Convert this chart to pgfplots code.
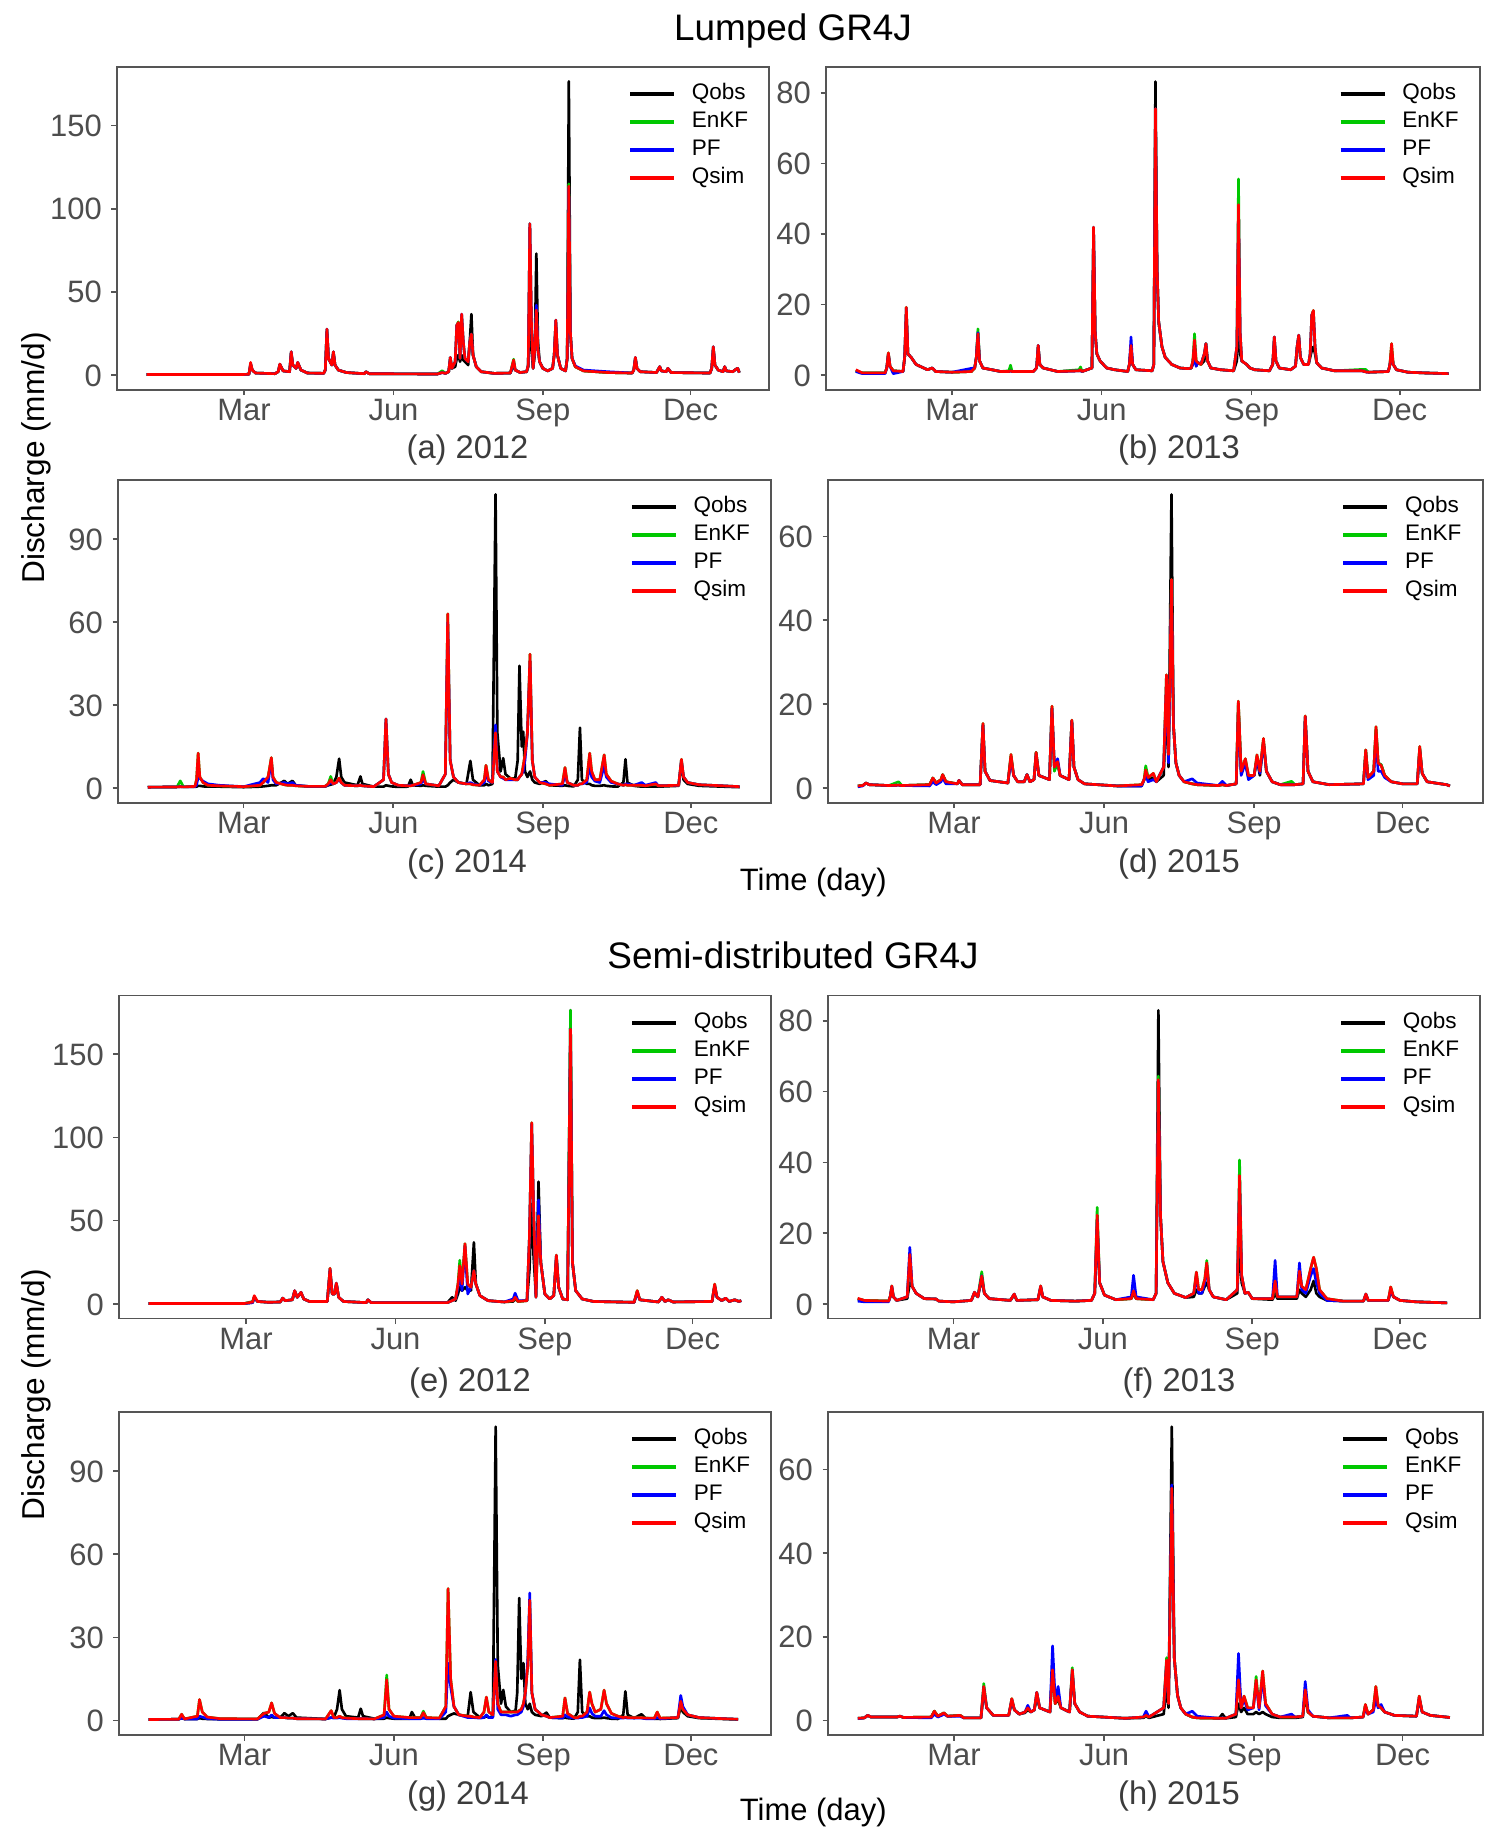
\documentclass[border=0pt]{standalone}
\usepackage{fontspec}
\setmainfont{Liberation Sans}
\usepackage{pgfplots}
\pgfplotsset{compat=1.18}
\usepackage{pgfplotstable}

\definecolor{cobs}{RGB}{0,0,0}
\definecolor{cenkf}{RGB}{0,200,0}
\definecolor{cpf}{RGB}{0,0,255}
\definecolor{csim}{RGB}{255,0,0}
\definecolor{tickgray}{RGB}{77,77,77}
\definecolor{framegray}{RGB}{85,85,85}
\definecolor{capgray}{RGB}{60,60,60}

% ---------- (a) Lumped 2012 ----------
\pgfplotstableread{
d o e p s
1 0.3 0.3 0.3 0.3
60 0.3 0.3 0.3 0.3
64 0.5 0.5 0.5 0.5
65 6 7 7 7.6
66 3 3 3 3
68 1.2 1.2 1.2 1.2
80 0.8 0.8 0.8 0.8
82 2 2 2 2
83 6 6.5 6.5 6.6
85 2.5 2.5 2.5 2.5
89 2 2 2 2
90 13 14 14 14
91 6 6 6 6
93 4 4 4 4
94 7 7.6 7.6 7.6
96 3 3 3 3
100 1.2 1.2 1.2 1.2
110 1 1 1 1
111 3 3 3 3
112 26 27.6 27.6 27.6
113 10 10 10 10
115 6 6 6 6
116 13 14 14 14
117 6 6 6 6
119 3 3 3 3
124 1.5 1.5 1.5 1.5
135 0.8 0.8 0.8 0.8
136 2 2 2 2
138 0.8 0.8 0.8 0.8
180 0.6 0.6 0.6 0.6
183 1.5 2.6 1.5 1.5
185 1 1 1 1
187 2 2 2 2
188 9 10.6 10.6 10.6
189 4 4 4 4
191 5 8 8 8
192 10 30 30 30
193 12 32 31 31.6
194 8 10 10 10
195 12 36 36.6 36.6
196 9 20 20 20
197 8 10 10 10
199 6 8 8 8
200 20 20 20 20
201 36.6 24.6 24.6 24.6
202 12 12 12 12
204 5 5 5 5
207 2 2 2 2
215 1 1 1 1
225 1.2 1.2 1.2 1.2
227 6 9.5 8 9
228 3 3 3 3
231 1.5 1.5 1.5 1.5
235 2 2 2 2
236 5 6 6 6
237 40 91 91 91
238 15 30 30 30
239 4 4 4 4
240 12 15 15 15
241 73 40 42 39
242 20 15 15 15
243 8 8 8 8
245 4 4 4 4
248 2.5 2.5 2.5 2.5
251 4 4 4 4
252 12 12 12 12
253 30 33 33 33
254 12 12 12 12
256 4 4 4 4
259 2.5 2.5 2.5 2.5
260 10 10 10 10
261 176.6 115 113 113.6
262 25 25 25 25
263 10 10 10 10
265 5 5 5.5 5
270 2.5 2.5 3 2.5
285 1.5 1.5 2 1.5
300 1.2 1.2 1.2 1.2
301 3 3 3 3
302 10 10.6 10.6 10.6
303 4 4 4 4
305 2 2 2 2
315 1.5 1.5 1.5 1.5
317 5 5 5 5
318 2.5 2.5 2.5 2.5
321 2 2 2 2
322 4 4 4 4
324 1.5 1.5 1.5 1.5
348 1.2 1.2 1.2 1.2
349 4 4 4 4
350 16 17 17 17
351 6 6 6 6
353 3 3 3 3
356 2 2 2 2
357 5 5 5 5
358 2.5 2.5 2.5 2.5
362 2 2 2 2
364 3.5 3.5 3.5 3.5
365 4 4 4 4
366 1.5 1.5 1.5 1.5
}\tabA

% ---------- (b) Lumped 2013 ----------
\pgfplotstableread{
d o e p s
1 1.2 1.2 1.0 1.5
5 0.6 0.6 0.4 0.6
19 0.6 0.6 0.4 0.6
20 2 2 2 2
21 6 6.3 6 6.3
22 2.5 2.5 2.5 2.5
24 1.2 1.2 0.4 1.2
30 1 1 1 1
31 5 5 5 5
32 17 19.2 19 19.2
33 6 6 6 6
35 5 5 5 5
38 3 3 3 3
45 1.5 1.5 1.5 1.5
48 2 2 2 2
50 1 1 1 1
60 0.8 0.8 0.8 0.8
72 1 1 1.9 1
74 2 2 2 2
75 5 5 5 5
76 12 13.1 12 11.7
77 4 4 4 4
79 2 2 2 2
90 1 1 1 1
95 1 1.2 1 1
96 1.2 2.8 1.2 1.2
97 1 1 1 1
110 1 1 1 1
112 2 2 2 2
113 8 8.4 8.4 8.4
114 3 3 3 3
116 2 2 2 2
125 1 1 1 1
138 1.2 1.5 1.2 1.2
139 1.2 2.3 1.2 1.5
140 1 1 1 1
146 2 2 2 2
147 40 41.9 41.9 41.9
148 12 12 12 12
149 6 6 6 6
151 4 4 4 4
155 2 2 2 2
160 1.5 1.5 1.5 1.5
168 1 1 1 1
169 3 3 3 3
170 8 8.4 10.8 8.4
171 3 3 3 3
173 1.5 1.5 1.5 1.5
183 1.2 1.2 1.2 1.2
184 3 3 3 3
185 83.2 75.5 75.5 75.5
186 30 30 30 30
187 15 15 15 15
189 8 8 8 8
191 5 5 5 5
195 3 3 3 3
200 2 2 2 2
205 1.8 1.8 1.8 1.8
207 2 2 2 2
208 4 4 3 4
209 8 11.7 9 9.9
210 2.5 4 2.5 4
211 3.5 3.5 3.5 3.5
213 3 3 3.2 3
215 4 6 6 6
216 8.9 8.9 8.9 8.9
217 4 4 4 4
219 2 2 2 2
225 1.5 1.5 1.5 1.5
233 1.2 1.2 1.2 1.2
235 4 8 8 8
236 17.4 55.6 48 48.3
237 6 12 12 12
238 4 4 4 4
241 3 3 3 3
243 2 2 2 2
246 1.5 1.5 1.5 1.5
255 1.2 1.2 1.2 1.2
257 3 3 3 3
258 10 10.8 10.8 10.8
259 4 4 4 4
261 2 2 2 2
268 1.5 1.5 1.5 1.5
271 2.5 2.5 2.5 2.5
272 8 8 8 8
273 11 11.3 11.3 11.3
274 5 5 5 5
276 3 3 3 3
279 3 3 3 3
280 5 6 6 6
281 7 17 17 17
282 8 18.3 18 18.3
283 6 8 8 8
284 3.5 3.5 3.5 3.5
287 2 2 2 2
295 1.2 1.2 1.2 1.2
312 1.2 1.6 1.2 1.2
314 0.9 1.6 0.9 0.9
316 0.8 0.8 0.8 0.8
328 1 1 1 1
329 3 3 3 3
330 7 8.9 6 8.9
331 3 3 3 3
333 1.5 1.5 1.5 1.5
340 0.8 0.8 0.8 0.8
350 0.6 0.6 0.6 0.6
365 0.4 0.4 0.4 0.4
}\tabB

% ---------- (c) Lumped 2014 ----------
\pgfplotstableread{
d o e p s
1 0.3 0.3 0.3 0.3
19 0.4 0.4 0.4 0.4
21 0.5 2.6 0.5 0.5
23 0.4 0.4 0.4 0.4
30 0.4 0.6 0.5 0.6
31 0.5 3 1 3
32 0.8 12.6 4 12.6
33 0.8 4 3.5 4
35 0.6 2 2.5 2
38 0.5 1 1.5 1
45 0.5 0.8 1 0.8
60 0.3 0.5 0.5 0.5
70 0.5 1 2 1
72 0.6 2 3.4 2
75 0.8 4 2 4
77 1 11 10 11
78 1 4 3 4
80 1 2 1.5 2
85 2.6 1.2 2 1.2
87 1.5 1 1.5 1
90 2.6 1 2 1
92 1 0.8 1 0.8
100 0.5 0.6 0.6 0.6
110 0.5 0.6 0.6 0.6
112 1 1.5 1.2 1.5
113.5 1.2 4.2 2 3
115 1.5 1.5 1.5 1.5
117 4 2 2 2
118.7 10.6 3.6 3 3.6
120 4 2 2 2
122 2 1 1 1
130 1 0.8 0.8 0.8
131.8 4.2 1 1 1
133 1.5 0.8 0.8 0.8
140 0.5 0.5 0.5 0.5
146 0.5 3 3 3
147.5 1 25 25 25
149 0.8 5 5 5
151 0.6 2 2 2
155 0.4 1 1 1
161 0.5 0.8 0.8 0.8
162.7 3 0.8 1 0.8
164 1 1 1 1
169 0.8 2 1.5 2
170.3 1 6 3 4.8
172 0.8 1.5 1.5 1.5
180 0.5 0.8 0.8 0.8
184 0.5 5 5 5
185.5 1 63 60 63
187 2 10 10 10
189 3 4 4 4
192 2 2 2 2
197 1.5 1.5 1.5 1.5
199.4 9.8 1.5 2 1.5
201 3 1.2 1.5 1.2
205 1 1 1 1
208 1 3 2 3
209 1.5 8.2 6 8.2
210.5 1 3 2.5 3
213 1.5 2 2 2
214.9 106.2 21 22.8 20
216 20 6 6 6
218 6 4 4 4
219.6 10.8 4 3.5 4
221 5 3 3 3
224 3.5 3.5 3 3.5
227 3.5 3 3 3
228.5 10 3 3 3
229.6 44.2 4 4 4
231 15 5 5 5
231.9 20.4 8 6 8
233 6 12 10 12
234.5 4 20 20 20
236.1 6 48.4 46 48.4
237.5 3 10 10 10
239 2 4 4 4
242 1.5 2 2 2
245.8 2.5 1.5 2 1.5
248 1 1 1.5 1
256 0.8 1.5 1 1.5
257.6 1 7.4 5 7.4
259 0.8 2 2 2
263 0.6 1 1 1
265.5 3 1 1 1
266.8 21.8 1.5 1.5 1.5
268 3 1.5 1.5 1.5
271 1.5 3 2 3
272.8 1.5 12.6 8 12.6
274 1 6 4 6
276 0.8 3 2.5 3
279 0.8 3 2 3
281.7 1 12 8 12
283 0.8 5 4 5
286 0.6 2.5 2 2.5
290 0.5 1.5 1.5 1.5
293.5 2 1 1 1
294.8 10.4 1.2 1.5 1.2
296 2 1 1.5 1
300 0.8 1 1 1
304.8 0.5 1 2 1
307 0.5 0.8 1 0.8
313.4 0.5 1.5 2 1.5
315 0.5 0.8 0.8 0.8
327.5 0.8 1 1 1
329.2 9 10.4 10 10.4
330.5 3 4 4 4
333 1.5 2 2 2
340 0.8 1.2 1.2 1.2
355 0.5 0.8 0.8 0.8
365 0.3 0.5 0.5 0.5
}\tabC

% ---------- (d) Lumped 2015 ----------
\pgfplotstableread{
d o e p s
1 0.5 0.5 0.3 0.5
4 0.6 0.6 0.5 0.6
6 1.2 1.2 1.2 1.2
8 0.8 0.8 0.8 0.8
20 0.6 0.6 0.6 0.6
26 0.7 1.5 0.7 0.7
28 0.6 0.6 0.6 0.6
45 0.8 0.8 0.5 0.8
47 2.4 2.4 1.5 2.4
49 1.2 1.2 0.8 1.2
52 2 2 1.5 2
53 3.2 3.2 2.5 3.2
55 1.5 1.5 1 1.5
62 1 1 1 1
63 1.8 1.8 1.8 1.8
65 0.8 0.8 0.8 0.8
76 0.8 0.8 0.8 0.8
77.7 15 15.4 15 15.4
79 4 4 4 4
82 1.8 1.8 1.8 1.8
93 1.2 1.2 1.2 1.2
94.9 7.5 8 7 8
96.5 3 3 3 3
99 1.5 1.5 1.5 1.5
103 1.5 1.5 1.5 1.5
104.7 3.2 3.2 3.2 3.2
106.5 1.5 1.5 1.5 1.5
109 2 2 2 2
110.3 8.5 8.5 8 8.5
112 3 3 3 3
118.5 2 2 2 2
120 19 19.5 19 19.5
121.5 5 4 5 5
123.5 6 6 7 6.3
125 3 3 3 3
130.5 2 2 2 2
132.2 16 16.2 16 16.2
133.5 5 5 5 5
136 2 2 2 2
140 1 1 1 1
160 0.5 0.5 0.5 0.5
175 0.5 0.8 0.5 0.8
176.5 2 2 2 2
177.5 3 5.3 3 4.3
179 2 2.5 1.5 2.5
182.2 2.5 3.5 2 3.5
184 1.5 1.5 1.5 1.5
188.5 3 5 5 5
190.2 20 27 25 27
191.5 5 8 6 8
193.3 70 49.7 49 49.7
194.5 15 15 15 15
196 6 6 6 6
198 3 3 3 3
201 1.5 1.5 1.5 1.5
206 1 1 2.2 1
209 0.8 0.8 1.2 0.8
222 0.6 0.6 0.6 0.6
224.5 0.8 0.8 1.6 0.8
227 0.6 0.6 0.6 0.6
233 1 1 1 1
234.3 20 20.7 18 20.7
236 4 4 3 4
238.6 6 7 6 7
240.5 2.5 3 2 3
244 3 3 3 3
245.7 7 7.9 7 7.9
247.5 3 4 3.5 4
249.7 11 11.8 11 11.8
251.5 4 4 4 4
255 1.5 1.5 1.5 1.5
260 0.8 0.8 0.8 0.8
266.9 0.8 1.6 0.8 0.8
269 0.8 0.8 0.8 0.8
274 1 1 1 1
275.3 17 17.2 17 17.2
277 4 4 4 4
280 1.5 1.5 1.5 1.5
290 0.8 0.8 0.8 0.8
311 1 1 1 1
312.4 9 9.1 8 9.1
313.8 2.5 2.5 2 2.5
317.3 4 4 3 4
318.7 14 14.6 12 14.6
320 6 6 4 6
321.9 5.5 5.5 4 5.3
324 3 3 2.5 3
328 1.5 1.5 1.5 1.5
335 1 1 1 1
344 1 1 1 1
345.5 9.5 9.9 9 9.9
347 3.5 3.5 3.5 3.5
350 1.5 1.5 1.5 1.5
355 1.2 1.2 1.2 1.2
362 0.8 0.8 0.8 0.8
364 0.5 0.5 0.5 0.5
}\tabD

% ---------- (e) Semi-distributed 2012 ----------
\pgfplotstableread{
d o e p s
1 0.3 0.3 0.3 0.3
60 0.3 0.3 0.3 0.3
65 0.8 1.5 0.8 1.2
66 4 4 4 5
68 1.5 1.5 1.5 1.5
75 1 1 1 1
82 1.2 1.2 1.2 1.2
83.6 3.5 3.5 3.5 3.5
85 2 2 2 2
89.5 2.5 2.5 2.5 2.5
90.9 7.5 8 8 8
92.5 4 4 4 4
94.8 6.5 7 7 7
96.5 3 3 3 3
100 1.5 1.5 1.5 1.5
111 1.5 1.5 1.5 1.5
112.7 20 21.4 21 21.4
114 6 6 6 6
115.5 6 6 6 6
116.6 12 12.5 12.5 12.5
118 4 4 4 4
121 1.5 1.5 1.5 1.5
135 0.8 0.8 0.8 0.8
136 2.5 2.5 2.5 2.5
138 0.8 0.8 0.8 0.8
185 0.8 0.8 0.8 0.8
187.9 4 2 2 2
190 2 3 3 3
191.5 6 12 10 12
192.6 10 26.3 18 23
194 8 12 8 12
195.8 10 36.2 35 36.2
197.5 8 12 6 12
199.5 8 10 10 10
201.3 37 20 20 20
202.5 12 12 12 12
205 5 5 5 5
210 2 2 2 2
220 1.2 1.2 1.2 1.2
225.5 1.5 2 3 2
226.7 3 4 6.5 4
228.5 1.5 1.5 2 1.5
234 2 2 2 2
235.5 20 40 40 40
236.9 60 108.8 108 108.8
238 30 60 60 60
239.5 5 4 4 4
241.1 73.4 55 62.5 53
242.5 25 25 25 25
245 6 6 6 6
248 3 3 3 3
250.5 5 5 5 5
252.1 28 29.3 29 29.3
253.5 10 10 10 10
256 3 3 3 3
259 2.5 2.5 2.5 2.5
260.8 176.3 176.3 165 164.9
262 25 25 25 25
264 8 8 8 8
268 3 3 3 3
275 1.5 1.5 1.5 1.5
300 1 1 1 1
301.9 7 8 7 8
303.5 2.5 2.5 2.5 2.5
315 1.2 1.2 1.2 1.2
317.1 4 4 4 4
319 1.5 1.5 1.5 1.5
321 2.5 2.5 2.5 2.5
324 1.2 1.2 1.2 1.2
348 1.5 1.5 1.5 1.5
349.6 11 11.9 11 11.9
351 4 4 4 4
354 2 2 2 2
356.4 3.5 3.5 3.5 3.5
358.5 1.5 1.5 1.5 1.5
362 2.5 2.5 2.5 2.5
364.5 1.5 1.5 1.5 1.5
366 2 2 2 2
}\tabE

% ---------- (f) Semi-distributed 2013 ----------
\pgfplotstableread{
d o e p s
1 1.4 1.4 0.8 1.6
5 1 1 0.6 1
20 0.8 0.8 0.6 0.8
21 2 2 2 2
22 4.5 5.1 5 5.1
23 2 2 2 2
25 1 1 1 1
31.5 1.5 2 2 2
33.1 6 14 16 14
34.5 5 5 5 5
37 3 3 3 3
42 1.5 1.5 1.5 1.5
49.2 1.4 1.4 1.4 1.4
51 0.8 0.8 0.8 0.8
60 0.6 0.6 0.6 0.6
71 1 1 1 1
72.9 3 3.3 3.3 3.3
75 2 2 2 2
77.4 7 9.1 8 7.9
79 3 3 3 3
82 1.5 1.5 1.5 1.5
95 1 1 1 1
97.4 2.5 2.8 2.8 2.8
99 1 1 1 1
112 1.2 1.2 1.2 1.2
113.7 4.5 5.1 5 5.1
115 2 2 2 2
120 1 1 1 1
135 0.8 0.8 0.8 0.8
145 1 1 1 1
147 3 3 3 3
148.5 22 27.3 24 25.1
150 6 6 6 6
153 2.5 2.5 2.5 2.5
160 1.2 1.2 1.2 1.2
169.5 1.5 1.5 2 1.5
170.9 3 3.7 8.1 3.7
172.5 1.5 1.5 2 1.5
183 1.2 1.2 1.2 1.2
184.8 3 3 3 3
186.2 83 64.4 63 63.4
187.5 25 25 25 25
189 12 12 12 12
192 6 6 6 6
196 3 3 3 3
203 1.8 1.8 1.8 1.8
208 2 3 3 3
209.6 4 9 8 9
211 3 4 3 4
213 3 4 3 4
214.8 5 7 6 7
216 6 12.3 11 11.6
217.5 4 4 4 4
220 2 2 2 2
228 1.2 1.2 1.2 1.2
234.8 3 4 4 4
236.2 17.7 40.7 36 36.3
237.5 6 8 8 8
239.5 3 3 3 3
241.5 3.3 3.3 3.3 3.3
244 1.5 1.5 1.5 1.5
256.5 1.2 1.5 1.5 1.5
258.1 3 6.5 12.3 6.5
259.5 1.5 2 2 2
271.5 1.5 2 2 2
273.1 4 9.5 11.6 9.3
274.5 3 5 4 5
277 2 4 3 4
280 4 10 8 10
281.8 6.5 13.2 10 13.2
283.5 3 10 6 10
285.5 2 4 3 4
290 1 1.5 1 1.5
300 0.8 0.8 0.8 0.8
312.5 0.8 0.8 0.8 0.8
314 2 2.8 2.8 2.8
315.5 1 1 1 1
327.8 1 1 1 1
329.3 3.5 4.8 4 4.8
331 2 2 2 2
335 1 1 1 1
345 0.6 0.6 0.6 0.6
364 0.3 0.3 0.3 0.3
}\tabF

% ---------- (g) Semi-distributed 2014 ----------
\pgfplotstableread{
d o e p s
1 0.3 0.3 0.3 0.3
19.5 0.4 0.4 0.4 0.4
21.3 0.8 2.2 0.8 2.2
23 0.5 0.5 0.5 0.5
31 0.5 1.5 0.5 1.5
32.3 0.8 7.5 1.5 7.5
34 0.6 3 1.2 3
37 0.5 1.2 0.6 1.2
45 0.4 0.6 0.4 0.6
68 0.4 0.5 0.4 0.5
72 2.7 2.5 1.5 2.5
75 1 3 1 3
76.7 1.2 6.3 2 6.3
78.5 1 2.5 1 2.5
82 1 1 1 1
84.6 2.6 1 1 1
87 1.5 0.8 0.8 0.8
89.8 2.6 0.8 0.8 0.8
92 1 0.6 0.6 0.6
110 0.5 0.5 0.5 0.5
113.4 1 3.5 1 3.5
115 1 1 0.8 1
117 4 1 0.8 1
118.6 10.9 1.5 1 1.5
120 4 1 0.8 1
122.5 1.5 0.8 0.6 0.8
130 1 0.6 0.6 0.6
131.6 4.2 0.6 0.6 0.6
133 1.5 0.6 0.6 0.6
140 0.6 0.5 0.5 0.5
146 0.6 2 1 2
147.6 1 16.4 3 14.7
149 0.8 4 1.5 4
152 0.6 1.5 0.8 1.5
161.5 0.6 1 0.6 1
163.1 3 1 0.6 1
165 1 1 0.6 1
168.5 0.8 1 0.6 1
170.2 1 3.3 0.8 2.8
172 0.8 1 0.6 1
180 0.6 0.8 0.6 0.8
184 0.6 5 3 5
185.4 1.5 47.6 20.7 47.6
187 2 15 12 15
189 2.5 5 5 5
192 2 2 2 2
197.5 1.5 1.5 1 1.5
199.3 10.2 1.5 1 1.5
201 3 1.2 1 1.2
205 1 1 0.8 1
207.5 1 3 1 3
209 1.5 8.4 2 8.4
210.5 1 3 1 3
213 1.5 2 1 2
214.7 106.1 21.3 22 21.3
216 20 6 4 6
218 6 3 2 3
219.4 11 3 2 3
221 5 3 2 3
224 3 3 1.5 3
227 3.5 3 2 3
228 10 3 2 3
229.2 44.2 3.5 2.5 3.5
230.5 15 4 3 4
231.8 20.7 6 5 6
233 6 10 10 10
234.5 4 20 22 20
235.7 6 43.4 46 43.4
237 3 10 10 10
239 2 4 4 4
243 1.5 2 2 2
246 2.8 1.5 1.5 1.5
248 1 1 1 1
256 0.8 1.5 0.8 1.5
257.4 1 8.1 2 8.1
259 0.8 2.5 1.2 2.5
263 0.6 1 0.8 1
265.3 3 1 0.8 1
266.6 21.9 1.5 1 1.5
268 3 1.5 1 1.5
271 1.5 3 1.5 3
272.6 1.5 10.2 4.5 10.2
274 1 6 2.5 6
276 0.8 3 1.5 3
279.5 0.8 4 1.5 4
281.5 1 10.9 3.5 10.9
283 0.8 6 2 6
286 0.6 2.5 1 2.5
290 0.5 1.5 0.8 1.5
293.3 2 1 0.8 1
294.6 10.5 1.2 1 1.2
296 2 1 0.8 1
300 0.8 1 0.8 1
304.5 2.2 1 0.8 1
307 0.8 0.8 0.6 0.8
312.5 0.6 0.8 0.6 0.8
314.2 0.6 3 1 3
316 0.5 0.8 0.6 0.8
327 0.8 1 1 1
328.7 5 6.9 9 6.9
330 3 4 5 4
333 1.5 2 2 2
340 0.8 1 1 1
355 0.5 0.6 0.6 0.6
364 0.3 0.4 0.4 0.4
}\tabG

% ---------- (h) Semi-distributed 2015 ----------
\pgfplotstableread{
d o e p s
1 0.5 0.5 0.4 0.5
5 0.6 0.6 0.6 0.6
7 1.2 1.2 1.2 1.2
9 0.8 0.8 0.8 0.8
25 0.8 0.8 0.8 0.8
26.8 1 1 1 1
29 0.7 0.7 0.7 0.7
46 0.8 0.8 0.6 0.8
47.9 2.2 2.2 1.5 2.2
50 1 1 0.8 1
52.5 1.5 1.5 1.2 1.5
53.7 1.8 1.8 1.5 1.8
56 1 1 1 1
63.7 1.2 1.2 1 1.2
66 0.6 0.6 0.6 0.6
76.5 0.6 0.6 0.6 0.6
78.2 7 8.8 8 8.1
80 3 3 3 3
84 1.2 1.2 1.2 1.2
93.5 1.2 1.2 1.2 1.2
95.4 4.5 5.2 5 5.2
97 2.5 2.5 2.5 2.5
100 1.5 1.5 1.5 1.5
103.5 1.8 2 2 2
105.2 2.5 3 3.6 3
107 2 2 2 2
109.2 2.5 2.5 2.5 2.5
110.7 5.5 6.7 6.7 6.7
112.5 3 3 3 3
118.8 2 2 2 2
120.4 12 13.3 17.8 12.1
122 4 4 5 4
123.8 5 5.8 8.1 5.8
125.5 3 3 3 3
130.8 2 2 2 2
132.5 11 12.6 12 12.1
134 4 4 4 4
137 2 2 2 2
142 1 1 1 1
165 0.5 0.5 0.5 0.5
176 0.6 0.8 0.8 0.8
177.7 1 1.2 2.2 1.2
179.5 0.6 0.8 0.8 0.8
188.5 1.5 3 3 3
190.3 8 15 14 14.4
191.5 3 4 4 4
193.5 70.2 55.5 56.3 55.5
195 15 15 15 15
197 6 6 6 6
199 3 3 3 3
202 1.5 1.5 1.5 1.5
206 0.8 0.8 2.2 0.8
209 0.6 0.6 1 0.6
222.5 0.5 0.5 0.5 0.5
224.5 1.5 0.5 0.6 0.5
226.5 0.5 0.5 0.5 0.5
232.8 0.8 1.5 1.5 1.5
234.4 4 10.9 16 9.7
236 2 3 3 3
237.8 3 5.8 5 5.8
240 1.5 3 2.5 3
243.5 1.5 3 3 3
245.2 2 10.5 9 9.7
247 1.5 3 2.5 3
249.2 2 11.8 10 11.8
251 1.5 4 3.5 4
255 0.8 1.5 1.5 1.5
260 0.6 0.8 0.8 0.8
266.9 0.6 0.8 1.5 0.8
269 0.6 0.8 0.8 0.8
273.8 0.8 1 1 1
275.3 6 7.3 9.3 7.3
277 2 2 2.5 2
280 1 1 1 1
290 0.6 0.6 0.6 0.6
301.1 0.6 0.6 1.2 0.6
303 0.6 0.6 0.6 0.6
310.8 0.8 0.8 0.8 0.8
312.2 3.5 3.8 3 3.8
313.8 1.5 1.5 1.5 1.5
317 2.5 2.5 2 2.5
318.6 7 8.1 5 8.1
320 3.5 3.5 3 3.5
321.8 3 3 3.8 3
324 2 2 2 2
330 1.2 1.2 1.2 1.2
343.5 1 1 1 1
345.2 5 5.8 5.5 5.8
347 2 2 2 2
352 1.2 1.2 1.2 1.2
364 0.7 0.7 0.7 0.7
}\tabH

\pgfplotsset{
  gr/.style={
    scale only axis, height=32.3mm,
    xmin=-17.3, xmax=384.3,
    axis line style={framegray, line width=0.45pt},
    every tick/.style={framegray, line width=0.45pt},
    tick align=outside, major tick length=0.55mm,
    xtick pos=bottom, ytick pos=left,
    ticklabel style={font=\fontsize{8.8}{10}\selectfont, text=tickgray},
    /pgf/number format/assume math mode=true,
    xticklabels={Mar,Jun,Sep,Dec},
    xticklabel style={inner sep=0pt, anchor=north, text height=6.3pt, text depth=0pt, yshift=-0.25mm},
    yticklabel style={inner sep=0pt, anchor=east, text height=6.3pt, text depth=0pt, xshift=-0.9mm},
    every axis plot/.append style={line width=0.75pt, line join=round},
    legend cell align=left,
    legend image code/.code={\draw[#1, line width=1.05pt] (0mm,0mm) -- (4.4mm,0mm);},
    legend style={at={(0.784,0.947)}, anchor=north west, draw=none, fill=none,
      inner sep=0pt, outer sep=0pt, row sep=0.8mm, column sep=1.6mm,
      font=\fontsize{6.4}{7}\selectfont,
      nodes={inner sep=0pt, text height=1.55mm, text depth=0.45mm}},
  },
  yL/.style={xtick={61,153,245,336}},
  yN/.style={xtick={60,152,244,335}},
}

\newcommand{\fourplots}[1]{%
  \addplot[cobs] table[x=d,y=o]{#1}; \addlegendentry{Qobs}
  \addplot[cenkf] table[x=d,y=e]{#1}; \addlegendentry{EnKF}
  \addplot[cpf] table[x=d,y=p]{#1}; \addlegendentry{PF}
  \addplot[csim] table[x=d,y=s]{#1}; \addlegendentry{Qsim}
}

\begin{document}
\begin{tikzpicture}
\path[use as bounding box] (0,0) rectangle (150.1mm,-183.5mm);

% titles
\node[anchor=base, font=\fontsize{10.5}{12}\selectfont] at (79.3mm,-4.07mm) {Lumped GR4J};
\node[anchor=base, font=\fontsize{10.5}{12}\selectfont] at (79.3mm,-96.8mm) {Semi-distributed GR4J};

% y labels
\node[rotate=90, anchor=center, font=\fontsize{9}{10}\selectfont] at (3.65mm,-45.8mm) {Discharge (mm/d)};
\node[rotate=90, anchor=center, font=\fontsize{9}{10}\selectfont] at (3.65mm,-139.5mm) {Discharge (mm/d)};

% x labels
\node[anchor=base, font=\fontsize{8.8}{10}\selectfont] at (81.33mm,-89.0mm) {Time (day)};
\node[anchor=base, font=\fontsize{8.8}{10}\selectfont] at (81.33mm,-182.0mm) {Time (day)};

% panel captions
\begin{scope}[every node/.style={anchor=base, font=\fontsize{9.3}{10}\selectfont, text=capgray}]
\node at (46.75mm,-45.83mm) {(a) 2012};
\node at (117.9mm,-45.83mm) {(b) 2013};
\node at (46.7mm,-87.2mm) {(c) 2014};
\node at (117.9mm,-87.2mm) {(d) 2015};
\node at (47.0mm,-139.13mm) {(e) 2012};
\node at (117.9mm,-139.13mm) {(f) 2013};
\node at (46.8mm,-180.43mm) {(g) 2014};
\node at (117.9mm,-180.43mm) {(h) 2015};
\end{scope}

% (a)
\begin{axis}[gr, yL, at={(11.7mm,-6.67mm)}, anchor=north west, width=65.2mm,
  ymin=-8.83, ymax=185.4, ytick={0,50,100,150}]
\fourplots{\tabA}
\end{axis}
% (b)
\begin{axis}[gr, yN, at={(82.6mm,-6.67mm)}, anchor=north west, width=65.4mm,
  ymin=-4.16, ymax=87.4, ytick={0,20,40,60,80}]
\fourplots{\tabB}
\end{axis}
% (c)
\begin{axis}[gr, yN, at={(11.8mm,-47.97mm)}, anchor=north west, width=65.3mm,
  ymin=-5.31, ymax=111.5, ytick={0,30,60,90}]
\fourplots{\tabC}
\end{axis}
% (d)
\begin{axis}[gr, yN, at={(82.8mm,-47.97mm)}, anchor=north west, width=65.5mm,
  ymin=-3.5, ymax=73.5, ytick={0,20,40,60}]
\fourplots{\tabD}
\end{axis}
% (e)
\begin{axis}[gr, yL, at={(11.9mm,-99.56mm)}, anchor=north west, width=65.2mm,
  ymin=-8.8, ymax=185.1, ytick={0,50,100,150}]
\fourplots{\tabE}
\end{axis}
% (f)
\begin{axis}[gr, yN, at={(82.8mm,-99.56mm)}, anchor=north west, width=65.2mm,
  ymin=-4.15, ymax=87.15, ytick={0,20,40,60,80}]
\fourplots{\tabF}
\end{axis}
% (g)
\begin{axis}[gr, yN, at={(11.9mm,-141.2mm)}, anchor=north west, width=65.2mm,
  ymin=-5.3, ymax=111.4, ytick={0,30,60,90}]
\fourplots{\tabG}
\end{axis}
% (h)
\begin{axis}[gr, yN, at={(82.8mm,-141.2mm)}, anchor=north west, width=65.5mm,
  ymin=-3.5, ymax=73.7, ytick={0,20,40,60}]
\fourplots{\tabH}
\end{axis}
\end{tikzpicture}
\end{document}
